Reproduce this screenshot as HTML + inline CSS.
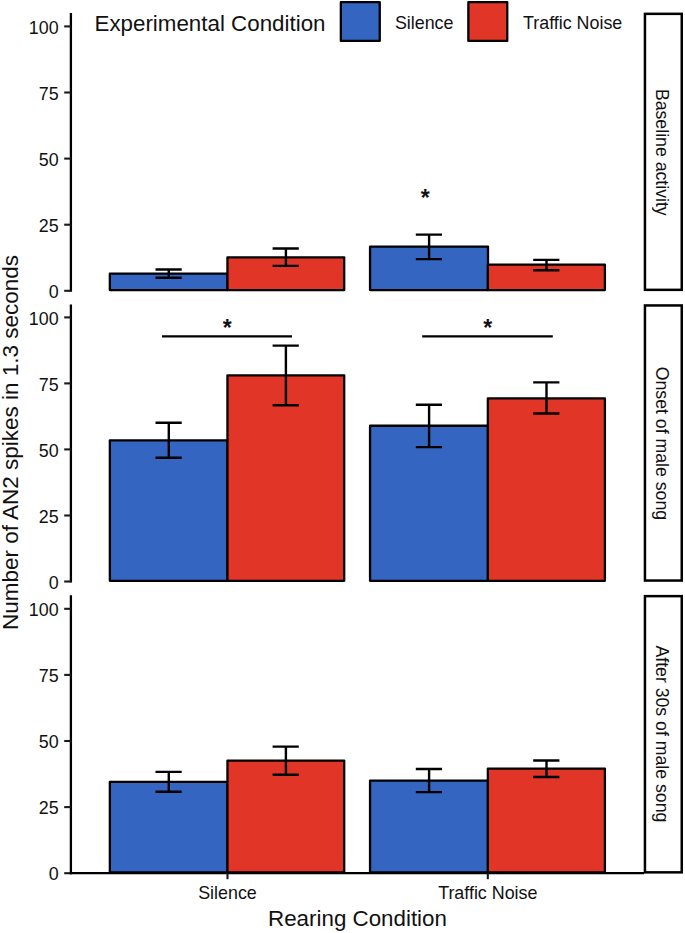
<!DOCTYPE html>
<html><head><meta charset="utf-8"><title>chart</title>
<style>html,body{margin:0;padding:0;background:#fff;overflow:hidden}svg{display:block;position:absolute;left:0;top:0}</style></head>
<body>
<svg width="685" height="933" viewBox="0 0 685 933" font-family="Liberation Sans, sans-serif" fill="#111">
<rect width="685" height="933" fill="#fff"/>
<rect x="109.85" y="273.65" width="117.75" height="16.45" fill="#3465C0" stroke="#000" stroke-width="2.3" stroke-linejoin="round"/>
<rect x="227.45" y="257.35" width="116.75" height="32.75" fill="#E03527" stroke="#000" stroke-width="2.3" stroke-linejoin="round"/>
<rect x="370.05" y="246.65" width="117.95" height="43.45" fill="#3465C0" stroke="#000" stroke-width="2.3" stroke-linejoin="round"/>
<rect x="487.85" y="264.65" width="117.05" height="25.45" fill="#E03527" stroke="#000" stroke-width="2.3" stroke-linejoin="round"/>
<path d="M155.5 269.5H181.7M155.5 277.8H181.7M168.8 269.5V277.8" stroke="#000" stroke-width="2.4" fill="none"/>
<path d="M272.6 248.5H298.8M272.6 265.9H298.8M285.9 248.5V265.9" stroke="#000" stroke-width="2.4" fill="none"/>
<path d="M415.8 234.6H442.0M415.8 259.1H442.0M429.1 234.6V259.1" stroke="#000" stroke-width="2.4" fill="none"/>
<path d="M533.2 259.9H559.4M533.2 270.3H559.4M546.5 259.9V270.3" stroke="#000" stroke-width="2.4" fill="none"/>
<path d="M70.9 12.9V291.7" stroke="#000" stroke-width="2.3"/>
<path d="M64.2 290.8H70.9" stroke="#1a1a1a" stroke-width="2.1"/>
<text x="58.6" y="297.9" font-size="17.87" text-anchor="end">0</text>
<path d="M64.2 224.7H70.9" stroke="#1a1a1a" stroke-width="2.1"/>
<text x="58.6" y="231.8" font-size="17.87" text-anchor="end">25</text>
<path d="M64.2 158.6H70.9" stroke="#1a1a1a" stroke-width="2.1"/>
<text x="58.6" y="165.7" font-size="17.87" text-anchor="end">50</text>
<path d="M64.2 92.5H70.9" stroke="#1a1a1a" stroke-width="2.1"/>
<text x="58.6" y="99.6" font-size="17.87" text-anchor="end">75</text>
<path d="M64.2 26.4H70.9" stroke="#1a1a1a" stroke-width="2.1"/>
<text x="58.6" y="33.5" font-size="17.87" text-anchor="end">100</text>
<rect x="644.95" y="13.85" width="36.8" height="276.00" fill="#fff" stroke="#000" stroke-width="2.5"/>
<text transform="translate(656.1 152.3) rotate(90)" font-size="17.7" text-anchor="middle">Baseline activity</text>
<rect x="109.85" y="440.35" width="117.75" height="140.45" fill="#3465C0" stroke="#000" stroke-width="2.3" stroke-linejoin="round"/>
<rect x="227.45" y="375.35" width="116.75" height="205.45" fill="#E03527" stroke="#000" stroke-width="2.3" stroke-linejoin="round"/>
<rect x="370.05" y="425.75" width="117.95" height="155.05" fill="#3465C0" stroke="#000" stroke-width="2.3" stroke-linejoin="round"/>
<rect x="487.85" y="398.45" width="117.05" height="182.35" fill="#E03527" stroke="#000" stroke-width="2.3" stroke-linejoin="round"/>
<path d="M155.5 422.7H181.7M155.5 457.8H181.7M168.8 422.7V457.8" stroke="#000" stroke-width="2.4" fill="none"/>
<path d="M272.6 345.6H298.8M272.6 405.2H298.8M285.9 345.6V405.2" stroke="#000" stroke-width="2.4" fill="none"/>
<path d="M415.8 404.7H442.0M415.8 447.1H442.0M429.1 404.7V447.1" stroke="#000" stroke-width="2.4" fill="none"/>
<path d="M533.2 382.4H559.4M533.2 413.5H559.4M546.5 382.4V413.5" stroke="#000" stroke-width="2.4" fill="none"/>
<path d="M70.9 304.5V582.4" stroke="#000" stroke-width="2.3"/>
<path d="M64.2 581.5H70.9" stroke="#1a1a1a" stroke-width="2.1"/>
<text x="58.6" y="588.6" font-size="17.87" text-anchor="end">0</text>
<path d="M64.2 515.5H70.9" stroke="#1a1a1a" stroke-width="2.1"/>
<text x="58.6" y="522.6" font-size="17.87" text-anchor="end">25</text>
<path d="M64.2 449.4H70.9" stroke="#1a1a1a" stroke-width="2.1"/>
<text x="58.6" y="456.6" font-size="17.87" text-anchor="end">50</text>
<path d="M64.2 383.4H70.9" stroke="#1a1a1a" stroke-width="2.1"/>
<text x="58.6" y="390.5" font-size="17.87" text-anchor="end">75</text>
<path d="M64.2 317.4H70.9" stroke="#1a1a1a" stroke-width="2.1"/>
<text x="58.6" y="324.5" font-size="17.87" text-anchor="end">100</text>
<rect x="644.95" y="305.45" width="36.8" height="275.10" fill="#fff" stroke="#000" stroke-width="2.5"/>
<text transform="translate(656.1 443.4) rotate(90)" font-size="17.7" text-anchor="middle">Onset of male song</text>
<rect x="109.85" y="781.85" width="117.75" height="90.65" fill="#3465C0" stroke="#000" stroke-width="2.3" stroke-linejoin="round"/>
<rect x="227.45" y="760.65" width="116.75" height="111.85" fill="#E03527" stroke="#000" stroke-width="2.3" stroke-linejoin="round"/>
<rect x="370.05" y="780.55" width="117.95" height="91.95" fill="#3465C0" stroke="#000" stroke-width="2.3" stroke-linejoin="round"/>
<rect x="487.85" y="768.55" width="117.05" height="103.95" fill="#E03527" stroke="#000" stroke-width="2.3" stroke-linejoin="round"/>
<path d="M155.5 771.9H181.7M155.5 791.8H181.7M168.8 771.9V791.8" stroke="#000" stroke-width="2.4" fill="none"/>
<path d="M272.6 746.6H298.8M272.6 774.8H298.8M285.9 746.6V774.8" stroke="#000" stroke-width="2.4" fill="none"/>
<path d="M415.8 769.0H442.0M415.8 792.1H442.0M429.1 769.0V792.1" stroke="#000" stroke-width="2.4" fill="none"/>
<path d="M533.2 760.5H559.4M533.2 777.0H559.4M546.5 760.5V777.0" stroke="#000" stroke-width="2.4" fill="none"/>
<path d="M70.9 595.2V874.2" stroke="#000" stroke-width="2.3"/>
<path d="M64.2 873.2H70.9" stroke="#1a1a1a" stroke-width="2.1"/>
<text x="58.6" y="880.3" font-size="17.87" text-anchor="end">0</text>
<path d="M64.2 807.1H70.9" stroke="#1a1a1a" stroke-width="2.1"/>
<text x="58.6" y="814.2" font-size="17.87" text-anchor="end">25</text>
<path d="M64.2 741.0H70.9" stroke="#1a1a1a" stroke-width="2.1"/>
<text x="58.6" y="748.1" font-size="17.87" text-anchor="end">50</text>
<path d="M64.2 674.9H70.9" stroke="#1a1a1a" stroke-width="2.1"/>
<text x="58.6" y="682.0" font-size="17.87" text-anchor="end">75</text>
<path d="M64.2 608.8H70.9" stroke="#1a1a1a" stroke-width="2.1"/>
<text x="58.6" y="615.9" font-size="17.87" text-anchor="end">100</text>
<rect x="644.95" y="596.15" width="36.8" height="276.20" fill="#fff" stroke="#000" stroke-width="2.5"/>
<text transform="translate(656.1 733.9) rotate(90)" font-size="17.7" text-anchor="middle">After 30s of male song</text>
<path d="M69.75 873.2H644" stroke="#000" stroke-width="2.2"/>
<path d="M227.5 873.3V879.2" stroke="#1a1a1a" stroke-width="2.1"/>
<text x="227.5" y="899.3" font-size="17.87" text-anchor="middle">Silence</text>
<path d="M487.8 873.3V879.2" stroke="#1a1a1a" stroke-width="2.1"/>
<text x="487.8" y="899.3" font-size="17.87" text-anchor="middle">Traffic Noise</text>
<text x="357.5" y="925.5" font-size="22.35" text-anchor="middle">Rearing Condition</text>
<text transform="translate(17.5 442.5) rotate(-90)" font-size="22.5" text-anchor="middle">Number of AN2 spikes in 1.3 seconds</text>
<text x="94.5" y="30.5" font-size="22.35">Experimental Condition</text>
<rect x="340.85" y="2.15" width="38.9" height="38.8" fill="#3465C0" stroke="#000" stroke-width="2.3" stroke-linejoin="round"/>
<rect x="468.35" y="2.15" width="38.9" height="38.8" fill="#E03527" stroke="#000" stroke-width="2.3" stroke-linejoin="round"/>
<text x="394.9" y="29" font-size="17.87">Silence</text>
<text x="523" y="29" font-size="17.87">Traffic Noise</text>
<text transform="translate(425.2 205.9) scale(1 1.02)" font-size="23" text-anchor="middle" font-weight="bold">*</text>
<path d="M162 336.4H292M422.2 336.4H552.8" stroke="#000" stroke-width="2.4"/>
<text transform="translate(227.3 335.9) scale(1 1.02)" font-size="23" text-anchor="middle" font-weight="bold">*</text>
<text transform="translate(487.7 335.9) scale(1 1.02)" font-size="23" text-anchor="middle" font-weight="bold">*</text>
</svg>
</body></html>
